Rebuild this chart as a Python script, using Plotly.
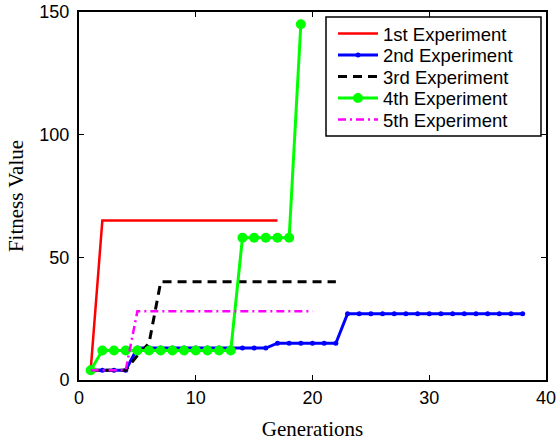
import plotly.graph_objects as go

gen1 = list(range(1, 18))
exp1 = [4] + [65] * 16

gen2 = list(range(1, 39))
exp2 = [4] * 4 + [13] * 12 + [15] * 6 + [27] * 16

gen3 = list(range(1, 23))
exp3 = [4] * 4 + [10, 15] + [40] * 16

gen4 = list(range(1, 20))
exp4 = [4] + [12] * 12 + [58] * 5 + [145]

gen5 = list(range(1, 21))
exp5 = [4] * 4 + [28] * 16

names = ["1st Experiment", "2nd Experiment", "3rd Experiment", "4th Experiment", "5th Experiment"]
x_ticks = [0, 10, 20, 30, 40]
y_ticks = [0, 50, 100, 150]

W, H = 556, 442
ML, MR, MT, MB = 79, 10, 12, 62
PW, PH = W - ML - MR, H - MT - MB


def px_x(p):
    return (p - ML) / PW


def px_y(p):
    return 1 - (p - MT) / PH


legend_ids = ["legend", "legend2", "legend3", "legend4", "legend5"]

fig = go.Figure()
fig.add_trace(go.Scatter(x=gen1, y=exp1, mode="lines", name=names[0], legend=legend_ids[0],
                         line=dict(color="#ff0000", width=2.5)))
fig.add_trace(go.Scatter(x=gen2, y=exp2, mode="lines+markers", name=names[1], legend=legend_ids[1],
                         line=dict(color="#0000ff", width=3),
                         marker=dict(color="#0000ff", size=5)))
fig.add_trace(go.Scatter(x=gen3, y=exp3, mode="lines", name=names[2], legend=legend_ids[2],
                         line=dict(color="#000000", width=3, dash="9px,6px")))
fig.add_trace(go.Scatter(x=gen4, y=exp4, mode="lines+markers", name=names[3], legend=legend_ids[3],
                         line=dict(color="#00ff00", width=3),
                         marker=dict(color="#00ff00", size=10)))
fig.add_trace(go.Scatter(x=gen5, y=exp5, mode="lines", name=names[4], legend=legend_ids[4],
                         line=dict(color="#ff00ff", width=2.5, dash="8px,4px,2px,4px")))

axis_common = dict(showline=True, linecolor="black", linewidth=2, mirror="ticks",
                   ticks="inside", ticklen=5, tickcolor="black", tickwidth=1,
                   showgrid=False, zeroline=False, automargin=False,
                   ticklabeloverflow="allow",
                   tickfont=dict(family="Liberation Sans, Arial", size=18, color="black"))

title_font = dict(family="Liberation Serif, Times New Roman", size=21, color="black")

legend_font = dict(family="Liberation Sans, Arial", size=18.5, color="black")
row_centers = [34, 55.5, 77, 98.5, 120]
legend_layout = {}
for lid, rc in zip(legend_ids, row_centers):
    legend_layout[lid] = dict(x=px_x(333), y=px_y(rc), xanchor="left", yanchor="middle",
                              bgcolor="rgba(0,0,0,0)", borderwidth=0,
                              font=legend_font, itemwidth=40)

fig.update_layout(
    width=W, height=H,
    margin=dict(l=ML, r=MR, t=MT, b=MB),
    paper_bgcolor="white", plot_bgcolor="white",
    xaxis=dict(range=[0, 40], tickvals=x_ticks,
               title=dict(text="Generations", standoff=15, font=title_font),
               **axis_common),
    yaxis=dict(range=[0, 150], tickvals=y_ticks, ticklabelstandoff=4,
               title=dict(text="Fitness Value", standoff=10, font=title_font),
               **axis_common),
    showlegend=True,
    shapes=[dict(type="rect", xref="paper", yref="paper",
                 x0=px_x(326), x1=px_x(541), y0=px_y(136), y1=px_y(17),
                 fillcolor="white", line=dict(color="black", width=1.5), layer="above")],
    **legend_layout,
)

fig.write_html("out.html", config={"displayModeBar": False},
               post_script="document.body.style.margin='0';")
